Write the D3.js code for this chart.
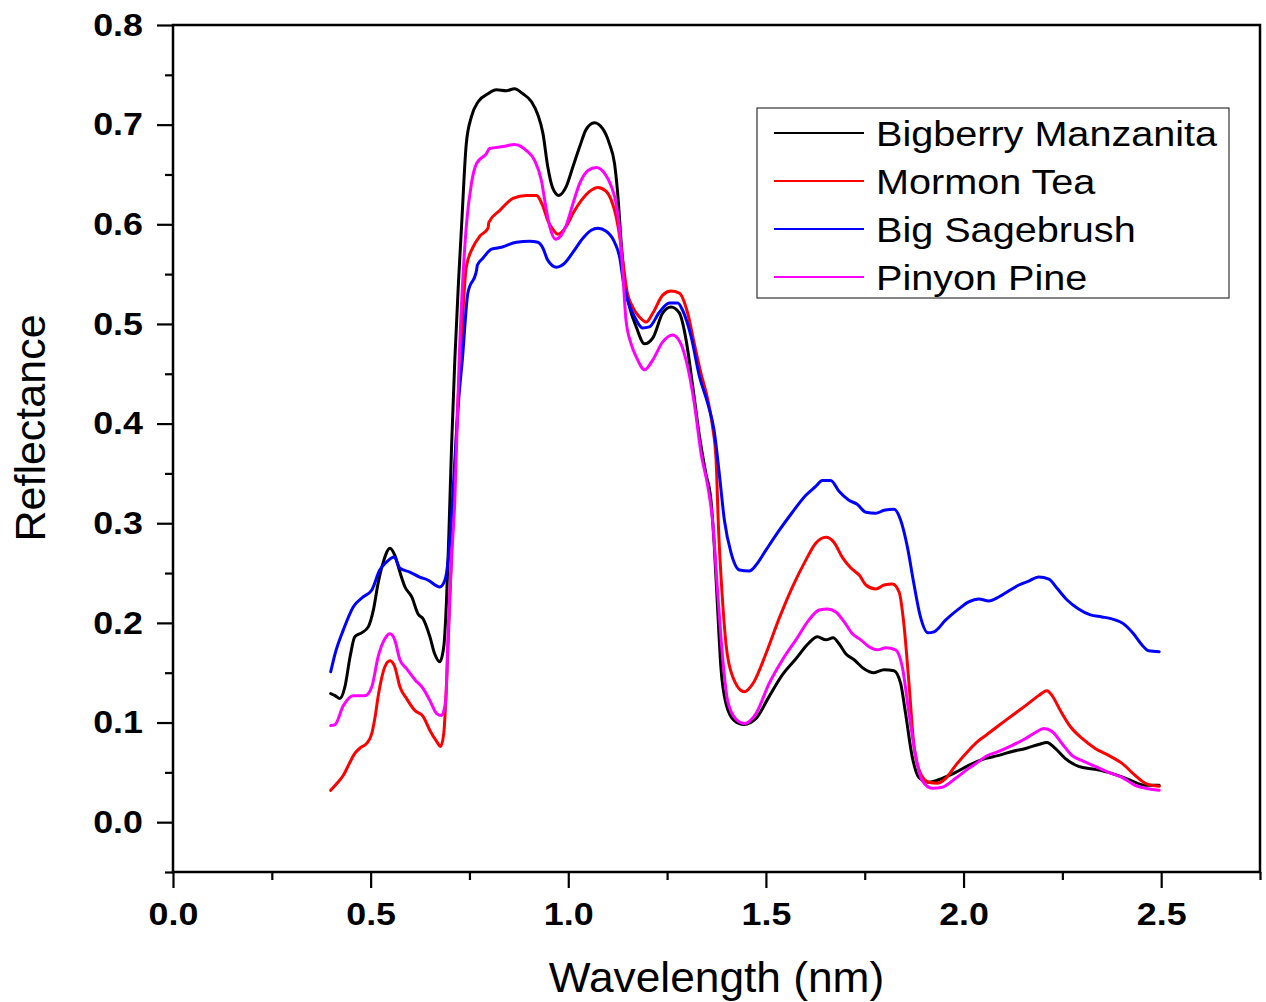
<!DOCTYPE html>
<html>
<head>
<meta charset="utf-8">
<script src="https://cdn.jsdelivr.net/npm/d3@7"></script>
<style>
  html, body { margin: 0; padding: 0; background: #fff; }
  svg { display: block; font-family: "Liberation Sans", Arial, sans-serif; }
</style>
</head>
<body>
<svg id="chart" width="1266" height="1002"></svg>
<script>
// Reflectance spectra, [wavelength, reflectance] pairs
const bigberryManzanita = [
  [0.399,0.129],[0.41,0.127],[0.422,0.124],[0.435,0.136],[0.448,0.166],[0.46,0.186],[0.477,0.190],
  [0.494,0.196],[0.507,0.213],[0.519,0.240],[0.532,0.261],[0.549,0.275],[0.561,0.268],[0.574,0.251],
  [0.587,0.236],[0.604,0.226],[0.620,0.209],[0.633,0.204],[0.650,0.186],[0.662,0.169],[0.675,0.161],
  [0.685,0.176],[0.692,0.223],[0.698,0.290],[0.705,0.380],[0.713,0.464],[0.722,0.540],[0.730,0.598],
  [0.742,0.681],[0.755,0.708],[0.772,0.723],[0.797,0.731],[0.818,0.735],[0.843,0.734],[0.864,0.736],
  [0.885,0.731],[0.907,0.723],[0.923,0.710],[0.936,0.691],[0.948,0.658],[0.961,0.636],[0.976,0.629],
  [0.995,0.638],[1.012,0.658],[1.029,0.678],[1.045,0.695],[1.066,0.702],[1.087,0.696],[1.104,0.681],
  [1.117,0.661],[1.125,0.631],[1.134,0.581],[1.142,0.544],[1.155,0.517],[1.172,0.497],[1.193,0.480],
  [1.214,0.486],[1.239,0.511],[1.260,0.517],[1.281,0.511],[1.298,0.484],[1.315,0.437],[1.332,0.387],
  [1.348,0.350],[1.361,0.323],[1.369,0.280],[1.378,0.213],[1.386,0.156],[1.399,0.119],[1.420,0.102],
  [1.445,0.098],[1.475,0.104],[1.508,0.126],[1.542,0.148],[1.576,0.164],[1.609,0.180],[1.630,0.186],
  [1.652,0.183],[1.670,0.185],[1.685,0.179],[1.702,0.169],[1.723,0.163],[1.748,0.154],[1.773,0.150],
  [1.799,0.153],[1.824,0.152],[1.841,0.139],[1.853,0.110],[1.870,0.066],[1.887,0.045],[1.912,0.040],
  [1.946,0.044],[1.980,0.050],[2.013,0.057],[2.056,0.064],[2.089,0.067],[2.123,0.071],[2.157,0.074],
  [2.190,0.078],[2.211,0.080],[2.232,0.074],[2.257,0.064],[2.291,0.056],[2.333,0.053],[2.375,0.049],
  [2.417,0.043],[2.460,0.037],[2.495,0.037]
];

const mormonTea = [
  [0.399,0.032],[0.415,0.039],[0.431,0.047],[0.445,0.058],[0.460,0.069],[0.475,0.075],[0.490,0.079],
  [0.503,0.089],[0.511,0.105],[0.519,0.126],[0.527,0.143],[0.536,0.156],[0.549,0.162],[0.561,0.156],
  [0.574,0.136],[0.591,0.124],[0.612,0.112],[0.633,0.106],[0.650,0.092],[0.667,0.081],[0.677,0.076],
  [0.685,0.089],[0.692,0.139],[0.700,0.220],[0.710,0.320],[0.718,0.400],[0.727,0.464],[0.742,0.557],
  [0.759,0.577],[0.776,0.588],[0.797,0.596],[0.799,0.602],[0.827,0.614],[0.860,0.626],[0.894,0.629],
  [0.919,0.629],[0.936,0.618],[0.948,0.604],[0.961,0.595],[0.974,0.590],[0.995,0.598],[1.012,0.611],
  [1.033,0.624],[1.054,0.633],[1.075,0.637],[1.096,0.633],[1.109,0.624],[1.121,0.608],[1.130,0.588],
  [1.140,0.557],[1.148,0.534],[1.163,0.517],[1.180,0.507],[1.197,0.502],[1.214,0.511],[1.239,0.529],
  [1.260,0.533],[1.281,0.531],[1.302,0.511],[1.319,0.480],[1.336,0.450],[1.353,0.424],[1.365,0.397],
  [1.374,0.363],[1.380,0.296],[1.389,0.230],[1.399,0.179],[1.416,0.146],[1.445,0.131],[1.470,0.141],
  [1.500,0.169],[1.534,0.205],[1.567,0.236],[1.601,0.263],[1.626,0.280],[1.652,0.286],[1.672,0.281],
  [1.693,0.266],[1.715,0.255],[1.736,0.248],[1.753,0.238],[1.778,0.234],[1.799,0.238],[1.820,0.239],
  [1.837,0.231],[1.849,0.199],[1.862,0.139],[1.874,0.079],[1.891,0.049],[1.912,0.040],[1.933,0.039],
  [1.955,0.044],[1.980,0.057],[2.013,0.072],[2.039,0.082],[2.056,0.087],[2.089,0.097],[2.123,0.107],
  [2.157,0.117],[2.190,0.127],[2.211,0.132],[2.224,0.127],[2.245,0.112],[2.270,0.096],[2.300,0.084],
  [2.333,0.074],[2.367,0.067],[2.401,0.059],[2.434,0.047],[2.460,0.039],[2.495,0.036]
];

const bigSagebrush = [
  [0.399,0.151],[0.410,0.169],[0.431,0.193],[0.456,0.216],[0.481,0.226],[0.503,0.233],[0.523,0.253],
  [0.540,0.261],[0.560,0.266],[0.574,0.255],[0.599,0.251],[0.624,0.246],[0.645,0.243],[0.675,0.236],
  [0.688,0.243],[0.696,0.263],[0.705,0.310],[0.714,0.370],[0.724,0.430],[0.732,0.464],[0.746,0.531],
  [0.768,0.554],[0.770,0.559],[0.784,0.566],[0.806,0.575],[0.831,0.577],[0.869,0.582],[0.902,0.583],
  [0.923,0.582],[0.936,0.576],[0.948,0.564],[0.970,0.557],[0.991,0.561],[1.012,0.572],[1.037,0.586],
  [1.058,0.594],[1.075,0.596],[1.096,0.593],[1.117,0.582],[1.130,0.567],[1.140,0.541],[1.150,0.524],
  [1.168,0.507],[1.188,0.496],[1.205,0.497],[1.231,0.512],[1.256,0.521],[1.277,0.521],[1.289,0.514],
  [1.311,0.487],[1.332,0.447],[1.353,0.420],[1.369,0.393],[1.382,0.350],[1.395,0.303],[1.412,0.270],
  [1.433,0.253],[1.458,0.252],[1.475,0.258],[1.500,0.273],[1.534,0.293],[1.567,0.311],[1.601,0.328],
  [1.626,0.337],[1.643,0.343],[1.664,0.343],[1.685,0.332],[1.710,0.323],[1.731,0.319],[1.753,0.311],
  [1.778,0.310],[1.799,0.313],[1.824,0.314],[1.841,0.303],[1.858,0.276],[1.874,0.240],[1.891,0.206],
  [1.910,0.190],[1.925,0.191],[1.955,0.203],[1.988,0.214],[2.013,0.221],[2.039,0.224],[2.064,0.222],
  [2.089,0.226],[2.114,0.232],[2.140,0.238],[2.165,0.242],[2.190,0.246],[2.216,0.244],[2.236,0.235],
  [2.262,0.223],[2.291,0.214],[2.321,0.208],[2.350,0.206],[2.375,0.204],[2.405,0.199],[2.430,0.189],
  [2.451,0.178],[2.468,0.172],[2.495,0.171]
];

const pinyonPine = [
  [0.399,0.097],[0.410,0.098],[0.431,0.117],[0.456,0.127],[0.486,0.127],[0.503,0.136],[0.519,0.166],
  [0.536,0.184],[0.549,0.189],[0.561,0.183],[0.574,0.163],[0.591,0.154],[0.612,0.143],[0.633,0.134],
  [0.650,0.122],[0.667,0.109],[0.679,0.107],[0.690,0.122],[0.696,0.190],[0.704,0.260],[0.713,0.323],
  [0.724,0.464],[0.742,0.598],[0.755,0.641],[0.768,0.661],[0.793,0.671],[0.801,0.676],[0.835,0.678],
  [0.864,0.680],[0.894,0.674],[0.915,0.664],[0.932,0.644],[0.943,0.618],[0.953,0.598],[0.968,0.585],
  [0.982,0.589],[0.995,0.599],[1.012,0.621],[1.029,0.641],[1.050,0.654],[1.071,0.657],[1.092,0.651],
  [1.109,0.638],[1.121,0.621],[1.130,0.594],[1.138,0.551],[1.146,0.504],[1.159,0.480],[1.172,0.467],
  [1.193,0.454],[1.214,0.464],[1.239,0.482],[1.264,0.489],[1.285,0.480],[1.302,0.457],[1.319,0.420],
  [1.336,0.370],[1.353,0.337],[1.365,0.303],[1.378,0.230],[1.391,0.163],[1.403,0.122],[1.425,0.103],
  [1.445,0.099],[1.475,0.109],[1.508,0.139],[1.542,0.163],[1.576,0.183],[1.609,0.203],[1.635,0.213],
  [1.656,0.214],[1.677,0.211],[1.698,0.201],[1.719,0.189],[1.740,0.183],[1.761,0.176],[1.782,0.173],
  [1.803,0.175],[1.828,0.173],[1.845,0.156],[1.862,0.109],[1.879,0.066],[1.895,0.042],[1.921,0.034],
  [1.946,0.035],[1.980,0.044],[2.013,0.054],[2.039,0.061],[2.056,0.066],[2.089,0.071],[2.123,0.077],
  [2.157,0.084],[2.182,0.090],[2.203,0.094],[2.224,0.091],[2.249,0.079],[2.274,0.067],[2.304,0.061],
  [2.333,0.056],[2.367,0.050],[2.401,0.045],[2.434,0.037],[2.460,0.034],[2.495,0.032]
];

const seriesNames = ["Bigberry Manzanita", "Mormon Tea", "Big Sagebrush", "Pinyon Pine"];
const seriesData = [bigberryManzanita, mormonTea, bigSagebrush, pinyonPine];
const seriesColors = ["#000000", "#ff0000", "#0000ff", "#ff00ff"];

const xMajorTicks = [0.0, 0.5, 1.0, 1.5, 2.0, 2.5];
const xMinorTicks = [0.25, 0.75, 1.25, 1.75, 2.25, 2.75];
const yMajorTicks = [0.0, 0.1, 0.2, 0.3, 0.4, 0.5, 0.6, 0.7, 0.8];
const yMinorTicks = [-0.05, 0.05, 0.15, 0.25, 0.35, 0.45, 0.55, 0.65, 0.75];

const svg = d3.select("#chart");
const plot = { left: 173, right: 1260, top: 25, bottom: 872 };
const widen = 1.12; // horizontal widening applied to the bold tick numerals

const x = d3.scaleLinear().domain([0, 2.75]).range([plot.left, plot.right]);
const y = d3.scaleLinear().domain([-0.05, 0.8]).range([plot.bottom, plot.top]);

// Axes: major ticks labelled, minor ticks shorter and unlabelled
const xMajor = d3.axisBottom(x).tickValues(xMajorTicks).tickSize(16).tickFormat(d3.format(".1f")).tickPadding(14);
const xMinor = d3.axisBottom(x).tickValues(xMinorTicks).tickSize(8).tickFormat("");
const yMajor = d3.axisLeft(y).tickValues(yMajorTicks).tickSize(16).tickFormat(d3.format(".1f")).tickPadding(14);
const yMinor = d3.axisLeft(y).tickValues(yMinorTicks).tickSize(8).tickFormat("");

function styleAxis(g) {
  g.select(".domain").remove();
  g.selectAll(".tick line").attr("stroke", "#000").attr("stroke-width", 2.2);
  g.selectAll(".tick text")
    .attr("fill", "#000")
    .style("font-family", "'Liberation Sans', Arial, sans-serif")
    .style("font-size", "32px")
    .style("font-weight", "bold");
}

function widenLabels(g) {
  g.selectAll(".tick text").each(function() {
    const t = d3.select(this);
    const x0 = +t.attr("x") || 0;
    t.attr("x", x0 / widen).attr("transform", `scale(${widen},1)`);
  });
}

svg.append("g").attr("transform", `translate(0,${plot.bottom})`).call(xMinor).call(styleAxis);
svg.append("g").attr("transform", `translate(0,${plot.bottom})`).call(xMajor).call(styleAxis).call(widenLabels);
svg.append("g").attr("transform", `translate(${plot.left},0)`).call(yMinor).call(styleAxis);
svg.append("g").attr("transform", `translate(${plot.left},0)`).call(yMajor).call(styleAxis).call(widenLabels);

// Frame around the plotting area
svg.append("rect")
  .attr("x", plot.left).attr("y", plot.top)
  .attr("width", plot.right - plot.left).attr("height", plot.bottom - plot.top)
  .attr("fill", "none").attr("stroke", "#000").attr("stroke-width", 2.5);

// Spectra
const line = d3.line()
  .x(d => x(d[0]))
  .y(d => y(d[1]))
  .curve(d3.curveMonotoneX);

svg.append("g").selectAll("path")
  .data(seriesData)
  .join("path")
  .attr("d", line)
  .attr("fill", "none")
  .attr("stroke", (d, i) => seriesColors[i])
  .attr("stroke-width", 3)
  .attr("stroke-linejoin", "round")
  .attr("stroke-linecap", "round");

// Axis titles
svg.append("text")
  .attr("transform", `translate(${(plot.left + plot.right) / 2},992) scale(1.03,1)`)
  .attr("text-anchor", "middle")
  .style("font-size", "43px")
  .attr("fill", "#000")
  .text("Wavelength (nm)");

svg.append("text")
  .attr("transform", "translate(45,428) rotate(-90)")
  .attr("text-anchor", "middle")
  .style("font-size", "43px")
  .attr("fill", "#000")
  .text("Reflectance");

// Legend
const legend = svg.append("g");
legend.append("rect")
  .attr("x", 757).attr("y", 108)
  .attr("width", 472).attr("height", 190)
  .attr("fill", "#fff").attr("stroke", "#333").attr("stroke-width", 1.2);

const rowY = d3.scalePoint().domain(seriesNames).range([133, 277]);
seriesNames.forEach((name, i) => {
  legend.append("line")
    .attr("x1", 774).attr("x2", 864)
    .attr("y1", rowY(name)).attr("y2", rowY(name))
    .attr("stroke", seriesColors[i]).attr("stroke-width", 2.2);
  legend.append("text")
    .attr("transform", `translate(876,${rowY(name) + 13}) scale(1.1,1)`)
    .style("font-size", "36px")
    .attr("fill", "#000")
    .text(name);
});
</script>
</body>
</html>
